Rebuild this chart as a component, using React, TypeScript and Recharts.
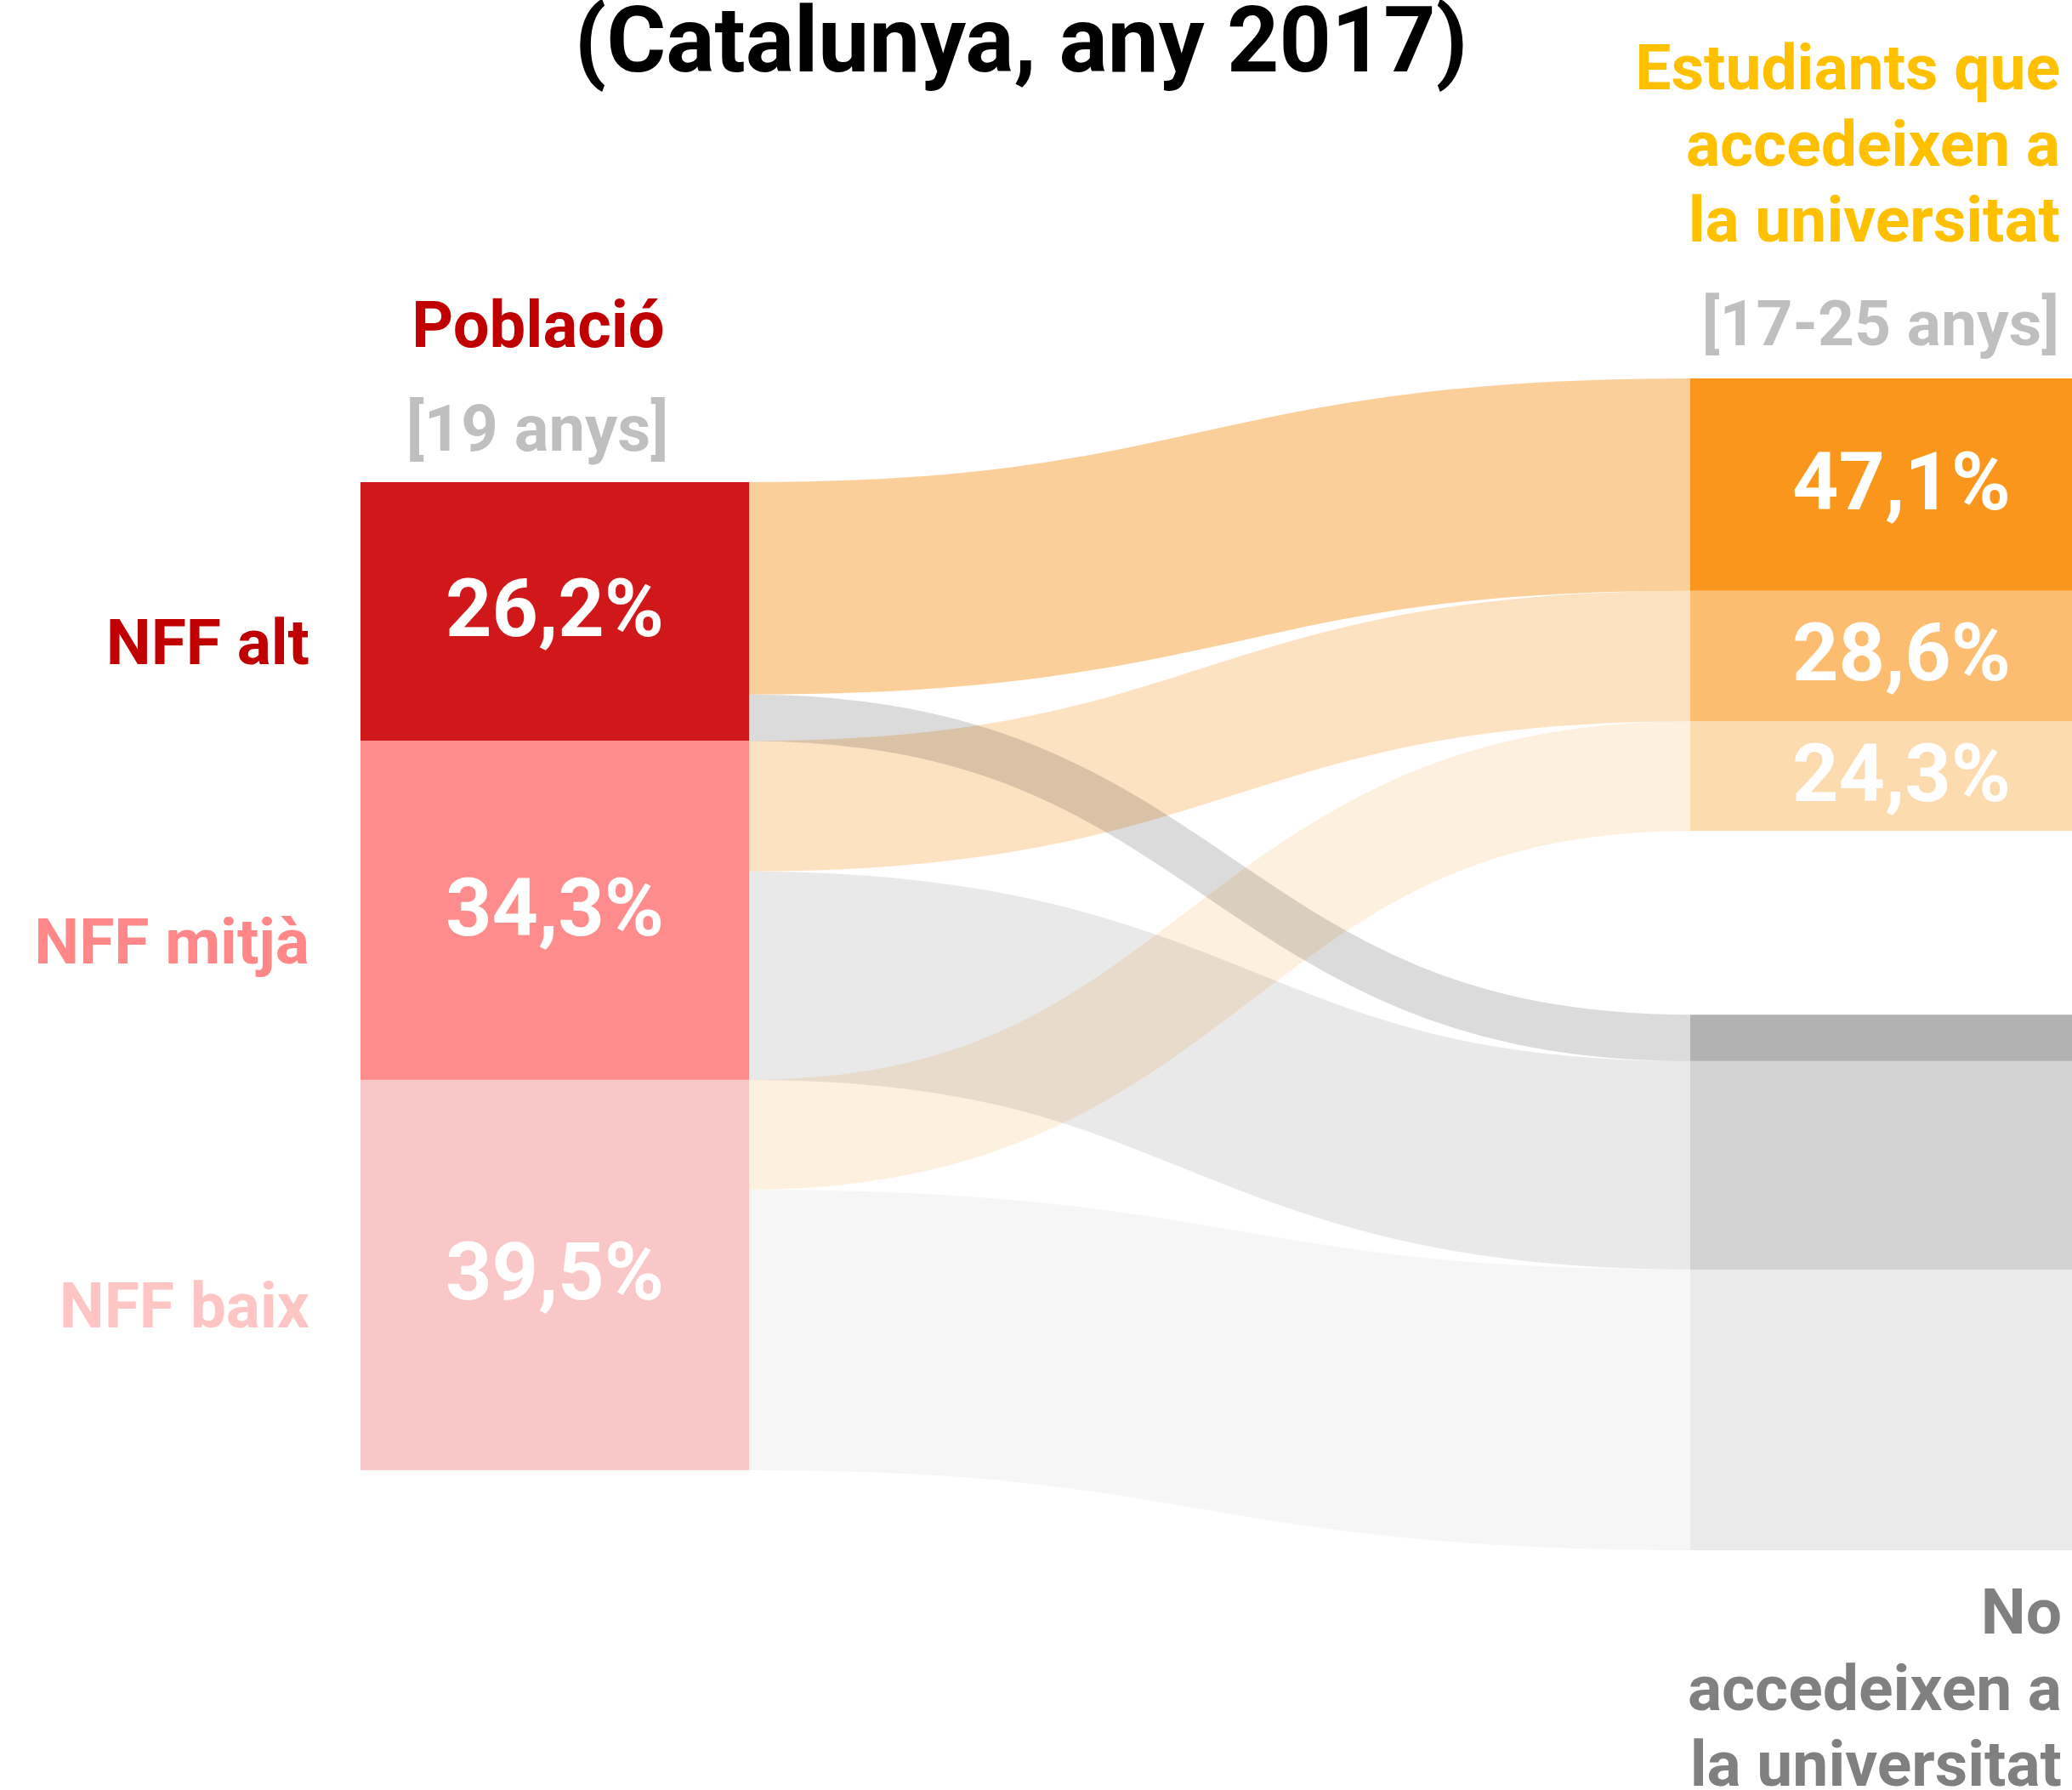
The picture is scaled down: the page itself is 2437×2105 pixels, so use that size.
import { Sankey } from "recharts";

const W = 2437;
const H = 2105;
const FONT = "Roboto, 'Open Sans', sans-serif";

// Left column: NFF groups, share of 19-year-olds (%)
const groupNames = ["NFF alt", "NFF mitjà", "NFF baix"];
const groupLabels = ["26,2%", "34,3%", "39,5%"];
const groupColors = ["#D0181A", "#FF8C8C", "#FAC7C8"];
const groupTextColors = ["#C00000", "#FF8787", "#FFC4C4"];

// Right column: share of each group among students entering university
const uniLabels = ["47,1%", "28,6%", "24,3%"];
const uniColors = ["#FB961C", "#FDBD70", "#FCDBAF"];
const noColors = ["#B2B2B2", "#D2D2D2", "#EAEAEA"];

// Flows in % of population (alt, mitjà, baix)
const toUni = [21.5, 13.2, 11.1];
const toNo = [4.7, 21.1, 28.4];
const uniLinkOpacity = [0.45, 0.27, 0.14];
const noLinkOpacity = [0.14, 0.085, 0.035];

// invisible spacers that offset the left column and open the gap on the right
const spacerTop = 10.5;
const spacerBottom = 8.1;

type NodeDatum = {
  name: string;
  hidden?: boolean;
  color?: string;
  label?: string;
  side?: "left" | "right";
  textColor?: string;
};

const nodes: NodeDatum[] = [
  { name: "spacer-top", hidden: true },
  ...groupNames.map((name, i) => ({
    name,
    color: groupColors[i],
    label: groupLabels[i],
    side: "left" as const,
    textColor: groupTextColors[i],
  })),
  { name: "spacer-bottom", hidden: true },
  ...uniLabels.map((label, i) => ({
    name: `uni-${i}`,
    color: uniColors[i],
    label,
    side: "right" as const,
  })),
  { name: "gap", hidden: true },
  ...noColors.map((color, i) => ({ name: `no-${i}`, color, side: "right" as const })),
];

type LinkDatum = {
  source: number;
  target: number;
  value: number;
  hidden?: boolean;
  color?: string;
  opacity?: number;
};

const links: LinkDatum[] = [
  { source: 0, target: 8, value: spacerTop, hidden: true },
  ...toUni.map((value, i) => ({
    source: 1 + i,
    target: 5 + i,
    value,
    color: "#F7941D",
    opacity: uniLinkOpacity[i],
  })),
  ...toNo.map((value, i) => ({
    source: 1 + i,
    target: 9 + i,
    value,
    color: "#000000",
    opacity: noLinkOpacity[i],
  })),
  { source: 4, target: 8, value: spacerBottom, hidden: true },
];

function FlowLink(props: any) {
  const { sourceX, sourceY, sourceControlX, targetX, targetY, targetControlX, linkWidth, index } = props;
  const l = links[index];
  if (!l || l.hidden) return <g />;
  return (
    <path
      d={`M${sourceX},${sourceY}C${sourceControlX},${sourceY} ${targetControlX},${targetY} ${targetX},${targetY}`}
      fill="none"
      stroke={l.color}
      strokeOpacity={l.opacity}
      strokeWidth={linkWidth}
    />
  );
}

function FlowNode(props: any) {
  const { x, y, width, height, index } = props;
  const n = nodes[index];
  if (!n || n.hidden) return <g />;
  const cy = y + height / 2;
  const cx = n.side === "right" ? x + width / 2 + 20 : x + width / 2;
  return (
    <g>
      <rect x={x} y={y} width={width} height={height} fill={n.color} />
      {n.label && (
        <text
          x={cx}
          y={cy + 29}
          textAnchor="middle"
          fill="#FFFFFF"
          fontFamily={FONT}
          fontWeight={700}
          fontSize={95}
        >
          {n.label}
        </text>
      )}
      {n.side === "left" && (
        <text
          x={x - 60}
          y={cy + 62}
          textAnchor="end"
          fill={n.textColor}
          fontFamily={FONT}
          fontWeight={700}
          fontSize={75}
        >
          {n.name}
        </text>
      )}
    </g>
  );
}

const textStyle = { fontFamily: FONT, fontWeight: 700 };

export default function App() {
  return (
    <div style={{ position: "absolute", left: 0, top: 0, width: W, height: H, background: "#fff" }}>
      <Sankey
        width={W}
        height={H}
        data={{ nodes, links }}
        nodeWidth={457}
        nodePadding={0}
        iterations={0}
        linkCurvature={0.5}
        margin={{ top: 445, right: -8, bottom: 282, left: 424 }}
        node={<FlowNode />}
        link={<FlowLink />}
      />
      <svg
        width={W}
        height={H}
        style={{ position: "absolute", left: 0, top: 0, pointerEvents: "none" }}
      >
        <text x={1201} y={84} textAnchor="middle" fontSize={107} fill="#000" {...textStyle}>
          (Catalunya, any 2017)
        </text>
        {["Estudiants que", "accedeixen a", "la universitat"].map((t, i) => (
          <text key={t} x={2423} y={105 + i * 89.5} textAnchor="end" fontSize={75} fill="#FFC000" {...textStyle}>
            {t}
          </text>
        ))}
        <text x={2422} y={406} textAnchor="end" fontSize={75} fill="#BFBFBF" {...textStyle}>
          [17-25 anys]
        </text>
        <text x={633} y={408} textAnchor="middle" fontSize={76} fill="#C00000" {...textStyle}>
          Població
        </text>
        <text x={632} y={530} textAnchor="middle" fontSize={76} fill="#BFBFBF" {...textStyle}>
          [19 anys]
        </text>
        {["No", "accedeixen a", "la universitat"].map((t, i) => (
          <text key={t} x={2425} y={1921 + i * 89.5} textAnchor="end" fontSize={75} fill="#808080" {...textStyle}>
            {t}
          </text>
        ))}
      </svg>
    </div>
  );
}
